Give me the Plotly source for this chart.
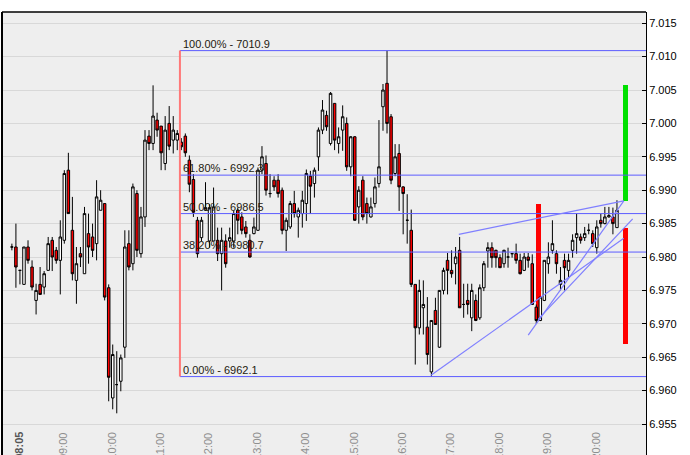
import plotly.graph_objects as go

# ---------------- data ----------------
# 5-minute candles starting 08:05 (index 0)
opens = [6.9815, 6.9815, 6.9780, 6.9759, 6.9815, 6.9785, 6.9735, 6.9759, 6.9755, 6.9780,
         6.9825, 6.9810, 6.9795, 6.9825, 6.9930, 6.9840, 6.9765, 6.9805, 6.9775, 6.9835,
         6.9830, 6.9820, 6.9870, 6.9880, 6.9754, 6.9589, 6.9609, 6.9614, 6.9665, 6.9820,
         6.9790, 6.9895, 6.9805, 6.9860, 6.9981, 6.9970, 7.0005, 6.9996, 6.9940, 7.0000,
         6.9975, 6.9975, 6.9972, 6.9981, 6.9945, 6.9916, 6.9855, 6.9829, 6.9870, 6.9824,
         6.9824, 6.9825, 6.9805, 6.9824, 6.9824, 6.9824, 6.9870, 6.9860, 6.9845, 6.9825,
         6.9835, 6.9840, 6.9930, 6.9940, 6.9895, 6.9915, 6.9915, 6.9900, 6.9840, 6.9845,
         6.9880, 6.9860, 6.9865, 6.9880, 6.9921, 6.9910, 6.9950, 6.9990, 7.0012, 6.9970,
         7.0030, 6.9970, 6.9990, 7.0000, 6.9935, 6.9980, 6.9875, 6.9915, 6.9880, 6.9860,
         6.9880, 6.9910, 7.0025, 7.0060, 7.0010, 6.9925, 6.9955, 6.9905, 6.9855, 6.9840,
         6.9759, 6.9694, 6.9724, 6.9695, 6.9628, 6.9720, 6.9665, 6.9750, 6.9795, 6.9780,
         6.9790, 6.9810, 6.9729, 6.9735, 6.9709, 6.9735, 6.9709, 6.9754, 6.9809, 6.9814,
         6.9810, 6.9799, 6.9790, 6.9800, 6.9805, 6.9805, 6.9795, 6.9780, 6.9800, 6.9790,
         6.9725, 6.9705, 6.9735, 6.9790, 6.9810, 6.9805, 6.9759, 6.9795, 6.9780, 6.9810,
         6.9829, 6.9830, 6.9829, 6.9840, 6.9835, 6.9814, 6.9855, 6.9850, 6.9860, 6.9860,
         6.9844]
highs = [6.9820, 6.9850, 6.9780, 6.9815, 6.9825, 6.9795, 6.9760, 6.9785, 6.9779, 6.9830,
         6.9830, 6.9815, 6.9855, 6.9930, 6.9956, 6.9890, 6.9815, 6.9815, 6.9875, 6.9865,
         6.9850, 6.9915, 6.9900, 6.9880, 6.9759, 6.9669, 6.9659, 6.9654, 6.9840, 6.9840,
         6.9910, 6.9900, 6.9875, 6.9990, 6.9990, 7.0057, 7.0016, 6.9996, 7.0011, 7.0026,
         7.0011, 6.9990, 6.9978, 6.9985, 6.9952, 6.9924, 6.9860, 6.9860, 6.9912, 6.9879,
         6.9904, 6.9844, 6.9844, 6.9834, 6.9844, 6.9869, 6.9874, 6.9867, 6.9854, 6.9834,
         6.9859, 6.9934, 6.9966, 6.9952, 6.9924, 6.9921, 6.9924, 6.9904, 6.9859, 6.9884,
         6.9899, 6.9874, 6.9899, 6.9931, 6.9929, 6.9934, 6.9994, 7.0035, 7.0019, 7.0047,
         7.0030, 6.9994, 7.0027, 7.0009, 6.9981, 6.9981, 6.9906, 6.9921, 6.9889, 6.9889,
         6.9919, 7.0005, 7.0059, 7.0109, 7.0014, 6.9969, 6.9969, 6.9906, 6.9894, 6.9871,
         6.9759, 6.9766, 6.9765, 6.9740, 6.9705, 6.9739, 6.9750, 6.9784, 6.9806, 6.9810,
         6.9815, 6.9830, 6.9760, 6.9760, 6.9760, 6.9744, 6.9759, 6.9794, 6.9822, 6.9822,
         6.9811, 6.9804, 6.9811, 6.9814, 6.9806, 6.9820, 6.9805, 6.9806, 6.9806, 6.9804,
         6.9729, 6.9740, 6.9795, 6.9822, 6.9855, 6.9810, 6.9785, 6.9805, 6.9805, 6.9834,
         6.9865, 6.9835, 6.9845, 6.9850, 6.9840, 6.9855, 6.9865, 6.9875, 6.9875, 6.9874,
         6.9885]
lows = [6.9810, 6.9754, 6.9759, 6.9759, 6.9790, 6.9750, 6.9714, 6.9744, 6.9744, 6.9780,
        6.9779, 6.9790, 6.9744, 6.9820, 6.9865, 6.9765, 6.9730, 6.9785, 6.9775, 6.9790,
        6.9800, 6.9795, 6.9870, 6.9735, 6.9584, 6.9572, 6.9566, 6.9599, 6.9649, 6.9780,
        6.9780, 6.9800, 6.9799, 6.9845, 6.9960, 6.9960, 6.9980, 6.9930, 6.9930, 6.9960,
        6.9955, 6.9960, 6.9960, 6.9950, 6.9897, 6.9860, 6.9799, 6.9824, 6.9869, 6.9814,
        6.9824, 6.9794, 6.9750, 6.9784, 6.9814, 6.9814, 6.9834, 6.9834, 6.9829, 6.9799,
        6.9834, 6.9839, 6.9924, 6.9892, 6.9889, 6.9899, 6.9889, 6.9834, 6.9809, 6.9842,
        6.9859, 6.9829, 6.9844, 6.9854, 6.9865, 6.9889, 6.9929, 6.9984, 6.9989, 6.9967,
        6.9960, 6.9955, 6.9959, 6.9929, 6.9921, 6.9854, 6.9850, 6.9855, 6.9850, 6.9859,
        6.9874, 6.9904, 6.9989, 6.9985, 6.9909, 6.9921, 6.9869, 6.9834, 6.9820, 6.9755,
        6.9639, 6.9684, 6.9684, 6.9639, 6.9621, 6.9699, 6.9664, 6.9744, 6.9744, 6.9769,
        6.9759, 6.9724, 6.9709, 6.9714, 6.9689, 6.9704, 6.9706, 6.9749, 6.9784, 6.9784,
        6.9784, 6.9784, 6.9784, 6.9784, 6.9799, 6.9790, 6.9774, 6.9779, 6.9784, 6.9729,
        6.9700, 6.9704, 6.9734, 6.9775, 6.9805, 6.9775, 6.9750, 6.9750, 6.9769, 6.9799,
        6.9805, 6.9820, 6.9824, 6.9834, 6.9815, 6.9805, 6.9844, 6.9849, 6.9859, 6.9834,
        6.9844]
closes = [6.9815, 6.9785, 6.9780, 6.9815, 6.9795, 6.9755, 6.9750, 6.9744, 6.9775, 6.9820,
          6.9800, 6.9795, 6.9830, 6.9925, 6.9865, 6.9775, 6.9790, 6.9800, 6.9865, 6.9815,
          6.9810, 6.9890, 6.9885, 6.9740, 6.9620, 6.9654, 6.9609, 6.9649, 6.9815, 6.9785,
          6.9905, 6.9810, 6.9860, 6.9975, 6.9970, 7.0011, 6.9990, 6.9956, 6.9990, 6.9966,
          6.9990, 6.9985, 6.9965, 6.9956, 6.9909, 6.9867, 6.9805, 6.9855, 6.9874, 6.9874,
          6.9875, 6.9805, 6.9825, 6.9790, 6.9829, 6.9865, 6.9855, 6.9840, 6.9835, 6.9800,
          6.9845, 6.9930, 6.9950, 6.9900, 6.9895, 6.9905, 6.9895, 6.9840, 6.9855, 6.9880,
          6.9865, 6.9870, 6.9885, 6.9925, 6.9906, 6.9930, 6.9990, 7.0020, 6.9995, 7.0045,
          6.9975, 6.9980, 7.0010, 6.9935, 6.9980, 6.9855, 6.9900, 6.9860, 6.9865, 6.9875,
          6.9905, 6.9935, 7.0050, 7.0000, 6.9915, 6.9950, 6.9905, 6.9895, 6.9855, 6.9759,
          6.9694, 6.9750, 6.9729, 6.9654, 6.9705, 6.9699, 6.9750, 6.9780, 6.9780, 6.9775,
          6.9800, 6.9724, 6.9729, 6.9729, 6.9750, 6.9705, 6.9754, 6.9790, 6.9814, 6.9799,
          6.9799, 6.9784, 6.9810, 6.9800, 6.9805, 6.9795, 6.9775, 6.9800, 6.9795, 6.9729,
          6.9705, 6.9740, 6.9795, 6.9800, 6.9820, 6.9790, 6.9765, 6.9784, 6.9795, 6.9825,
          6.9835, 6.9825, 6.9835, 6.9840, 6.9820, 6.9845, 6.9850, 6.9860, 6.9862, 6.9850,
          6.9870]

start_label = "08:05"
time_labels = ["08:05", "09:00", "10:00", "11:00", "12:00", "13:00", "14:00",
               "15:00", "16:00", "17:00", "18:00", "19:00", "20:00"]

# Fibonacci retracement
fib_high = 7010.9
fib_low = 6962.1
fib_pcts = [1.0, 0.618, 0.5, 0.382, 0.0]
fib_anchor = 41.66          # candle index where the fib begins

# trend lines (candle index, price)
trend_x0 = [103.9, 128.0, 130.5, 110.8]
trend_y0 = [6.9623, 6.9683, 6.9707, 6.9834]
trend_x1 = [151.7, 151.7, 153.9, 151.7]
trend_y1 = [6.9828, 6.9884, 6.9857, 6.9884]

# vertical range bars
range_x = [130.5, 152.1, 152.1]
range_low = [6.97072, 6.98838, 6.96698]
range_high = [6.98793, 7.00575, 6.98434]
range_colors = ["#ff0000", "#00e000", "#ff0000"]

# ---------------- figure ----------------
idx = list(range(len(opens)))
X_MIN, X_MAX = -2.45, 157.2
Y_MIN, Y_MAX = 6.95036, 7.01668

fig = go.Figure()
fig.add_trace(go.Candlestick(
    x=idx, open=opens, high=highs, low=lows, close=closes,
    increasing=dict(fillcolor="#ffffff", line=dict(color="#000000", width=1)),
    decreasing=dict(fillcolor="#ff0000", line=dict(color="#000000", width=1)),
    whiskerwidth=0, showlegend=False, hoverinfo="skip"))

fig.add_trace(go.Bar(
    x=range_x, base=range_low,
    y=[h - l for h, l in zip(range_high, range_low)],
    width=[1.25] * len(range_x),
    marker=dict(color=range_colors, line=dict(width=0)),
    showlegend=False, hoverinfo="skip"))

shapes = []
annotations = []
fib_diff = fib_high - fib_low
for p in fib_pcts:
    lvl = fib_low + p * fib_diff
    shapes.append(dict(type="line", xref="x", yref="y", x0=fib_anchor, x1=X_MAX,
                       y0=lvl / 1000, y1=lvl / 1000,
                       line=dict(color="#5c5cff", width=1)))
    annotations.append(dict(x=fib_anchor, y=lvl / 1000, xref="x", yref="y",
                            xanchor="left", yanchor="bottom", showarrow=False,
                            text=f"{p*100:.2f}% - {lvl:.1f}", xshift=1, yshift=-1,
                            font=dict(family="Liberation Sans, Arial", size=11, color="#1e1a10")))
shapes.append(dict(type="line", xref="x", yref="y", x0=fib_anchor, x1=fib_anchor,
                   y0=fib_low / 1000, y1=fib_high / 1000,
                   line=dict(color="#ff7878", width=2)))

for x0, y0, x1, y1 in zip(trend_x0, trend_y0, trend_x1, trend_y1):
    shapes.append(dict(type="line", xref="x", yref="y", x0=x0, y0=y0, x1=x1, y1=y1,
                       line=dict(color="#7f7fff", width=1.2)))

# borders (left, top)
shapes.append(dict(type="line", xref="paper", yref="paper", x0=0, x1=0, y0=0, y1=1,
                   line=dict(color="#000000", width=2)))
shapes.append(dict(type="line", xref="paper", yref="paper", x0=0, x1=1, y0=1, y1=1,
                   line=dict(color="#000000", width=1.5)))

def label_index(lbl):
    h, m = map(int, lbl.split(":"))
    sh, sm = map(int, start_label.split(":"))
    return ((h * 60 + m) - (sh * 60 + sm)) / 5

for i, lbl in enumerate(time_labels):
    first = i == 0
    annotations.append(dict(x=label_index(lbl) + 1.7, y=0.0564, xref="x", yref="paper",
                            xanchor="center", yanchor="top", showarrow=False,
                            textangle=-90, text=f"<b>{lbl}</b>" if first else lbl,
                            font=dict(family="Liberation Sans, Arial", size=11,
                                      color="#555555" if first else "#8f8f8f")))

fig.update_layout(
    width=690, height=455,
    margin=dict(l=2, r=44, t=12, b=0, pad=0),
    paper_bgcolor="#ffffff", plot_bgcolor="#eeeeee",
    shapes=shapes, annotations=annotations,
    bargap=0, boxgap=0.12, showlegend=False,
    xaxis=dict(range=[X_MIN, X_MAX], showticklabels=False, showgrid=False,
               zeroline=False, showline=False, ticks="",
               rangeslider=dict(visible=False), fixedrange=True),
    yaxis=dict(range=[Y_MIN, Y_MAX], side="right", tick0=6.95, dtick=0.005,
               tickformat=".3f", ticks="inside", ticklen=4, tickcolor="#000000",
               showline=True, linecolor="#000000", linewidth=1,
               showgrid=True, gridcolor="#d8d8d8", gridwidth=1, zeroline=False,
               tickfont=dict(family="Liberation Sans, Arial", size=11, color="#000000")),
)

fig.write_html("out.html", config={"displayModeBar": False},
               post_script="document.body.style.margin='0';document.body.style.overflow='hidden';")
